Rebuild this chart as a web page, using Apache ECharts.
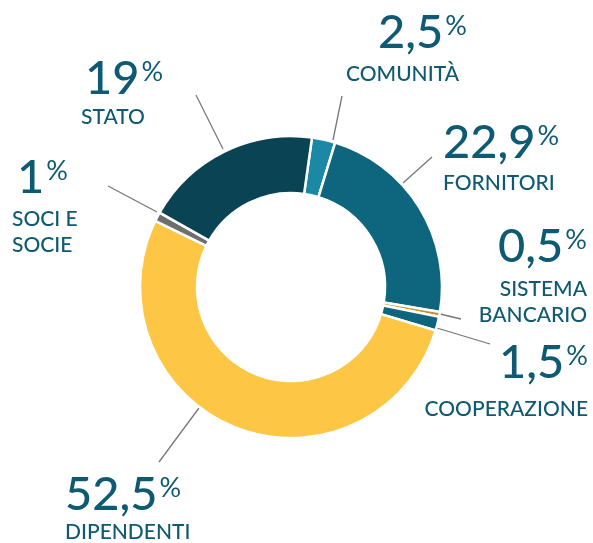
<!DOCTYPE html>
<html>
<head>
<meta charset="utf-8">
<script src="https://cdn.jsdelivr.net/npm/echarts@6/dist/echarts.min.js"></script>
<style>
  html, body { margin: 0; padding: 0; background: #fff; }
  #chart { width: 593px; height: 543px; }
</style>
</head>
<body>
<div id="chart"></div>
<script>
// dati (in senso orario partendo da Comunità)
const categories = ['COMUNITÀ', 'FORNITORI', 'SISTEMA\nBANCARIO', 'COOPERAZIONE', 'DIPENDENTI', 'SOCI E\nSOCIE', 'STATO'];
const values = [2.5, 22.9, 0.5, 1.5, 52.5, 1, 19];
const colors = ['#1b88a6', '#0e657e', '#d3891c', '#0e657e', '#fdc645', '#6e6e6e', '#0a4454'];

// posizione etichette (x, y centro) e linee guida
const numPos = [[378, 33], [443, 143], [587, 247], [588, 363], [65, 495], [17, 178], [85, 79]];
const namePos = [[346, 74], [443, 183], [587, 302], [588, 409], [65, 532], [12, 232], [81, 117]];
const labelAlign = ['left', 'left', 'right', 'right', 'left', 'left', 'left'];
const lineFrom = [[333, 140], [403, 183], [440, 314], [437, 328], [199, 408], [157, 212], [223, 149]];
const lineTo = [[342, 96], [432, 157], [461, 319], [490, 344], [159, 462], [108, 186], [196, 95]];

const textColor = '#0f5a73';
const font = 'Lato';

const pieData = categories.map((name, i) => ({
  name: name,
  value: values[i],
  itemStyle: { color: colors[i] }
}));

const chart = echarts.init(document.getElementById('chart'));

const option = {
  animation: false,
  series: [
    {
      type: 'pie',
      center: [291, 287],
      radius: [94, 151],
      startAngle: 82,
      clockwise: true,
      silent: true,
      itemStyle: { borderColor: '#fff', borderWidth: 2.5 },
      label: {
        show: true,
        overflow: 'none',
        formatter: (p) => '{v|' + String(p.value).replace('.', ',') + '}{p|%}',
        rich: {
          v: { fontFamily: font, fontWeight: 500, fontSize: 47, lineHeight: 47, color: textColor },
          p: { fontFamily: font, fontWeight: 400, fontSize: 27, color: textColor, padding: [0, 0, 14, 2] }
        }
      },
      labelLine: { show: true, lineStyle: { color: '#777', width: 1.3 } },
      labelLayout: (params) => {
        const i = params.dataIndex;
        return {
          x: numPos[i][0],
          y: numPos[i][1],
          align: labelAlign[i],
          verticalAlign: 'middle',
          labelLinePoints: [lineFrom[i], lineTo[i], lineTo[i]]
        };
      },
      data: pieData
    },
    {
      type: 'pie',
      center: [291, 287],
      radius: [94, 151],
      startAngle: 82,
      silent: true,
      itemStyle: { color: 'rgba(0,0,0,0)' },
      label: {
        show: true,
        overflow: 'none',
        formatter: '{b}',
        fontFamily: font,
        fontWeight: 500,
        fontSize: 21,
        lineHeight: 26,
        color: textColor
      },
      labelLine: { show: false },
      labelLayout: (params) => {
        const i = params.dataIndex;
        return {
          x: namePos[i][0],
          y: namePos[i][1],
          align: labelAlign[i],
          verticalAlign: 'middle'
        };
      },
      data: categories.map((name, i) => ({ name: name, value: values[i] }))
    }
  ]
};

chart.setOption(option);
</script>
</body>
</html>
